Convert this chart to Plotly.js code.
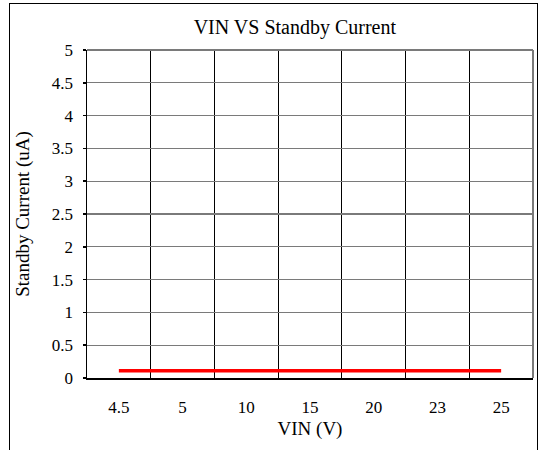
<!DOCTYPE html>
<html><head><meta charset="utf-8">
<script src="https://cdn.plot.ly/plotly-3.0.1.min.js"></script>
<style>
html,body{margin:0;padding:0;background:#fff;}
#wrap{position:relative;width:540px;height:450px;overflow:hidden;}
#chart{width:540px;height:450px;}
#frame{position:absolute;left:9px;top:3px;width:527px;height:470px;border:1.5px solid #000;pointer-events:none;}
</style></head>
<body>
<div id="wrap"><div id="chart"></div><div id="frame"></div></div>
<script>
const vinLabels = ["4.5","5","10","15","20","23","25"];
const standbyCurrent = [0.11,0.11,0.11,0.11,0.11,0.11,0.11];
const yTicks = [0,0.5,1,1.5,2,2.5,3,3.5,4,4.5,5];

const font = "'Liberation Serif', 'DejaVu Serif', serif";
Plotly.newPlot("chart", [{
  x: vinLabels, y: standbyCurrent, type: "scatter", mode: "lines",
  line: {color: "#ff0000", width: 3.5}, hoverinfo: "skip"
}], {
  width: 540, height: 450,
  margin: {l: 87, r: 7, t: 50, b: 72},
  paper_bgcolor: "#fff", plot_bgcolor: "#fff",
  showlegend: false,
  title: {text: "VIN VS Standby Current", font: {family: font, size: 20, color: "#000"},
          x: 0.546, xref: "container", y: 0.94, yref: "container", xanchor: "center", yanchor: "middle"},
  xaxis: {
    type: "category", tickson: "boundaries", showgrid: true, gridcolor: "#000", gridwidth: 1,
    ticks: "", showline: true, linecolor: "#000", linewidth: 1.5, mirror: false,
    tickfont: {family: font, size: 17, color: "#000"}, ticklabelstandoff: 13,
    title: {text: "VIN (V)", font: {family: font, size: 19, color: "#000"}, standoff: 6},
    range: [-0.5, 6.5], zeroline: false
  },
  yaxis: {
    range: [0, 5], tickvals: yTicks, ticktext: yTicks.map(String),
    showgrid: true, gridcolor: "#7a7a7a", gridwidth: 1.2,
    ticks: "outside", ticklen: 3, tickcolor: "#000", tickwidth: 1.5,
    showline: true, linecolor: "#000", linewidth: 1.5, zeroline: false,
    tickfont: {family: font, size: 17, color: "#000"}, ticklabelstandoff: 6,
    title: {text: "Standby Current (uA)", font: {family: font, size: 19, color: "#000"}, standoff: 17}
  },
  shapes: [
    {type: "line", xref: "paper", yref: "paper", x0: 0, x1: 1, y0: 1, y1: 1, line: {color: "#7a7a7a", width: 2}},
    {type: "line", xref: "paper", yref: "paper", x0: 1, x1: 1, y0: 0, y1: 1, line: {color: "#7a7a7a", width: 2}}
  ]
}, {staticPlot: true});
</script>
</body></html>
